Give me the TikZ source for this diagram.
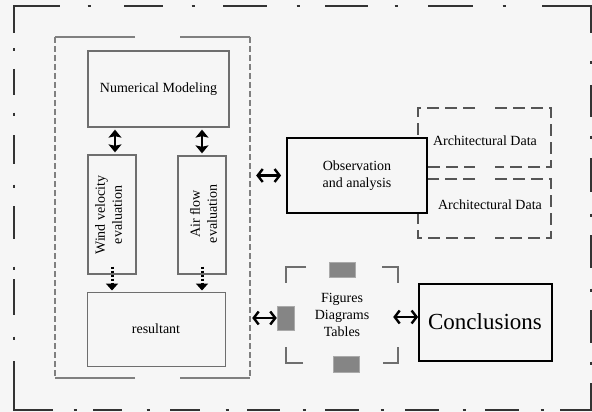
\documentclass[tikz,border=0pt]{standalone}
\usepackage{fontspec}
\setmainfont{Liberation Serif}
\usetikzlibrary{arrows.meta}
\definecolor{bg}{HTML}{F6F6F6}
\definecolor{framecol}{HTML}{333333}
\definecolor{boxgray}{HTML}{6E6E6E}
\definecolor{dashgray}{HTML}{808080}
\definecolor{archgray}{HTML}{555555}
\definecolor{fillgray}{HTML}{858585}
\begin{document}
\begin{tikzpicture}[x=1pt,y=-1pt,
  frame/.style={draw=framecol, line width=2pt},
  box/.style={draw=boxgray, line width=1.3pt, inner sep=0pt},
  blackbox/.style={draw=black, line width=1.8pt, fill=bg, inner sep=0pt},
  plain/.style={inner sep=0pt},
  txt/.style={font=\fontsize{14}{17}\selectfont, align=center, inner sep=0pt},
  grayrect/.style={fill=fillgray, draw=fillgray!70, line width=0.5pt, inner sep=0pt},
  solidarr/.style={line width=2.3pt, {Stealth[length=8pt,width=13pt,inset=1.5pt]}-{Stealth[length=8pt,width=13pt,inset=1.5pt]}},
  dotarr/.style={line width=3pt, dash pattern=on 2pt off 2pt, -{Triangle[length=7pt,width=12pt]}},
  dblarr/.style={line width=2.4pt, {Straight Barb[length=5pt,width=13pt]}-{Straight Barb[length=5pt,width=13pt]}},
  archline/.style={draw=archgray, line width=1.3pt, dash pattern=on 12pt off 6pt},
  contside/.style={draw=dashgray, line width=1.3pt, dash pattern=on 6pt off 3pt},
  conttop/.style={draw=dashgray, line width=1.3pt},
  bracket/.style={draw=boxgray, line width=1.4pt}
]
\fill[bg] (0,0) rectangle (592,412);
\useasboundingbox (0,0) rectangle (592,412);

% ---------- outer dash-dot frame ----------
\draw[frame] (14,33) -- (14,6) -- (60,6);
\draw[frame] (542,6) -- (591,6) -- (591,33);
\draw[frame] (14,361) -- (14,410) -- (53,410);
\draw[frame] (560,410) -- (591,410) -- (591,383);
\foreach \a/\b in {124/163,223/267,325/368,428/473}
  \draw[frame] (\a,6) -- (\b,6);
\foreach \d in {89,193,298,396,504}
  \draw[frame] (\d-1.5,6) -- (\d+1.5,6);
\foreach \a/\b in {93/122,170/200,247/280,325/359,405/439,485/519}
  \draw[frame] (\a,410) -- (\b,410);
\foreach \d in {75,148,227,304,382,464,542}
  \draw[frame] (\d-1.5,410) -- (\d+1.5,410);
\foreach \a/\b in {69/95,135/164,206/239,279/315}
  \draw[frame] (14,\a) -- (14,\b);
\foreach \d in {50,114,186,268,338}
  \draw[frame] (14,\d-1.5) -- (14,\d+1.5);
\foreach \a/\b in {85/117,158/192,235/268,310/343}
  \draw[frame] (591,\a) -- (591,\b);
\foreach \d in {63,137,215,290,363}
  \draw[frame] (591,\d-1.5) -- (591,\d+1.5);

% ---------- inner container ----------
\node[plain, minimum width=195pt, minimum height=341pt] (cont) at (152.5,207.5) {};
\draw[conttop] (135,37) -- (55,37);
\draw[conttop] (180,37) -- (250,37);
\draw[conttop] (135,378) -- (55,378);
\draw[conttop] (180,378) -- (250,378);
\draw[contside] (55,37) -- (55,378);
\draw[contside] (250,37) -- (250,378);

\node[box, minimum width=141pt, minimum height=76pt] (nm) at (158.5,89) {};
\node[txt] (nmtxt) at (nm) {Numerical Modeling};

\node[box, minimum width=48pt, minimum height=119pt] (wind) at (112,214.5) {};
\node[txt, rotate=90] (windtxt) at (108.5,215) {Wind velocity\\evaluation};
\node[box, minimum width=48pt, minimum height=118pt] (air) at (202,215) {};
\node[txt, rotate=90] (airtxt) at (203.5,214) {Air flow\\evaluation};

\node[box, line width=1pt, minimum width=138pt, minimum height=74pt] (res) at (156,329) {};
\node[txt] (restxt) at (res) {resultant};

\draw[solidarr, shorten <=2pt, shorten >=2pt] (nm.south -| 115,0) -- (wind.north -| 115,0);
\draw[solidarr, shorten <=2pt, shorten >=2pt] (nm.south -| air.north) -- (air.north);
\draw[dotarr, shorten >=1pt] ([yshift=8pt]wind.south) -- (res.north -| wind.south);
\draw[dotarr, shorten >=1pt] ([yshift=8pt]air.south) -- (res.north -| air.south);

% ---------- architectural data ----------
\node[plain, minimum width=133pt, minimum height=59pt] (arch1) at (484.5,137.5) {};
\node[plain, minimum width=133pt, minimum height=59pt] (arch2) at (484.5,208.5) {};
\draw[archline] (475,108) -- (418,108) -- (418,167) -- (475,167);
\draw[archline] (495,108) -- (551,108) -- (551,167) -- (495,167);
\draw[archline] (475,179) -- (418,179) -- (418,238) -- (475,238);
\draw[archline] (495,179) -- (551,179) -- (551,238) -- (495,238);
\node[txt] (a1txt) at (485,141) {Architectural Data};
\node[txt] (a2txt) at (490,205) {Architectural Data};

\node[blackbox, minimum width=140pt, minimum height=75pt] (obs) at (357,175.5) {};
\node[txt] (obstxt) at (357,176) {Observation\\and analysis};

\draw[dblarr, shorten >=5pt] ([xshift=6pt]cont.east |- obs.west) -- (obs.west);

% ---------- figures group ----------
\node[plain, minimum width=112pt, minimum height=96pt] (fig) at (342,315) {};
\draw[bracket] (306,267) -- (286,267) -- (286,283);
\draw[bracket] (382,267) -- (398,267) -- (398,283);
\draw[bracket] (303,363) -- (286,363) -- (286,347);
\draw[bracket] (383,363) -- (398,363) -- (398,347);
\node[grayrect, minimum width=26pt, minimum height=15pt] (gtop) at (342,269.5) {};
\node[grayrect, minimum width=26pt, minimum height=16pt] (gbot) at (346,364) {};
\node[grayrect, minimum width=17pt, minimum height=24pt] (gleft) at (285.5,318) {};
\node[txt] (figtxt) at (342,315) {Figures\\Diagrams\\Tables};

\node[blackbox, minimum width=133pt, minimum height=77pt] (concl) at (485.5,322.5) {};
\node[font=\fontsize{23}{27}\selectfont, inner sep=0pt] (concltxt) at (485,322) {Conclusions};

\draw[dblarr] ([xshift=2pt]cont.east |- gleft.west) -- (gleft.west);
\draw[dblarr] ([xshift=-5pt]fig.east |- 0,317) -- (concl.west |- 0,317);
\end{tikzpicture}
\end{document}
